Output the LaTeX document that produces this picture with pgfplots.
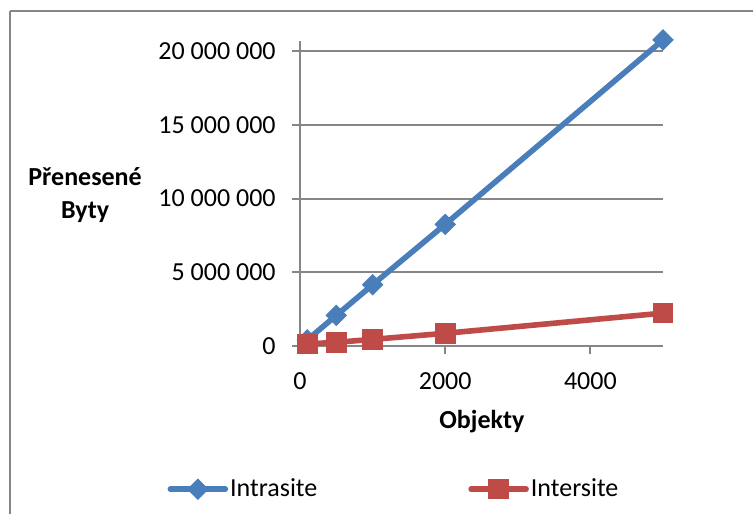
\documentclass[border=0pt]{standalone}
\usepackage{fontspec}
\setmainfont{Carlito}
\usepackage{pgfplots}
\pgfplotsset{compat=1.18}
\definecolor{intraline}{RGB}{74,126,187}
\definecolor{interline}{RGB}{190,75,72}
\definecolor{axgray}{RGB}{134,134,134}

\begin{document}
\begin{tikzpicture}
% chart frame (cropped on the right and bottom, like the reference)
\draw[axgray, line width=1.2pt] (5pt,-5.5pt) -- (385pt,-5.5pt);
\draw[axgray, line width=1.2pt] (5pt,-5.5pt) -- (5pt,-265pt);
\begin{axis}[
    at={(150pt,-173pt)}, anchor=south west,
    scale only axis,
    width=181.5pt, height=152.65pt,
    xmin=0, xmax=5000,
    ymin=0, ymax=20700000,
    axis x line*=bottom, axis y line*=left,
    axis line style={axgray, line width=1pt, -},
    tick style={axgray, line width=1pt},
    tick align=outside,
    major tick length=4pt,
    xtick={0,2000,4000},
    xticklabels={0,2000,4000},
    ytick={0,5000000,10000000,15000000,20000000},
    yticklabels={0,5 000 000,10 000 000,15 000 000,20 000 000},
    scaled y ticks=false, scaled x ticks=false,
    ymajorgrids,
    grid style={axgray, line width=1pt},
    ticklabel style={font=\fontsize{13}{15.6}\selectfont, inner sep=0pt},
    yticklabel style={xshift=-8pt},
    xticklabel style={yshift=-9.3pt},
    every axis y label/.style={at={(axis description cs:-0.592,0.495)}, anchor=center, align=center,
        font=\fontsize{13}{16.5}\selectfont\bfseries},
    every axis x label/.style={at={(axis description cs:0.501,-0.246)}, anchor=center,
        font=\fontsize{13}{15.6}\selectfont\bfseries},
    ylabel={Přenesené\\Byty},
    xlabel={Objekty},
    clip=false,
    legend columns=2,
    legend style={at={(axis description cs:-0.366,-0.469)}, anchor=west, draw=none, fill=none,
        inner sep=0pt, font=\fontsize{13}{15.6}\selectfont,
        nodes={inner sep=0pt},
        /tikz/every odd column/.append style={column sep=1pt},
        /tikz/every even column/.append style={column sep=75.5pt}},
    legend image code/.code={\draw[mark repeat=2,mark phase=2,#1,line cap=round]
        plot coordinates {(0pt,0pt) (13.75pt,0pt) (27.5pt,0pt)};},
]
\addplot[intraline, line width=2.8pt, mark=square*, mark size=3.55pt,
    mark options={rotate=45, fill=intraline, line width=0.5pt}] coordinates {
    (100,415000) (500,2075000) (1000,4150000) (2000,8250000) (5000,20750000)
};
\addlegendentry{Intrasite}
\addplot[interline, line width=2.8pt, mark=square*, mark size=4.9pt,
    mark options={fill=interline, line width=0.5pt}] coordinates {
    (100,140000) (500,250000) (1000,450000) (2000,860000) (5000,2230000)
};
\addlegendentry{Intersite}
\end{axis}
\pgfresetboundingbox
\useasboundingbox (0pt,0pt) rectangle (376.5pt,-256.5pt);
\end{tikzpicture}
\end{document}
